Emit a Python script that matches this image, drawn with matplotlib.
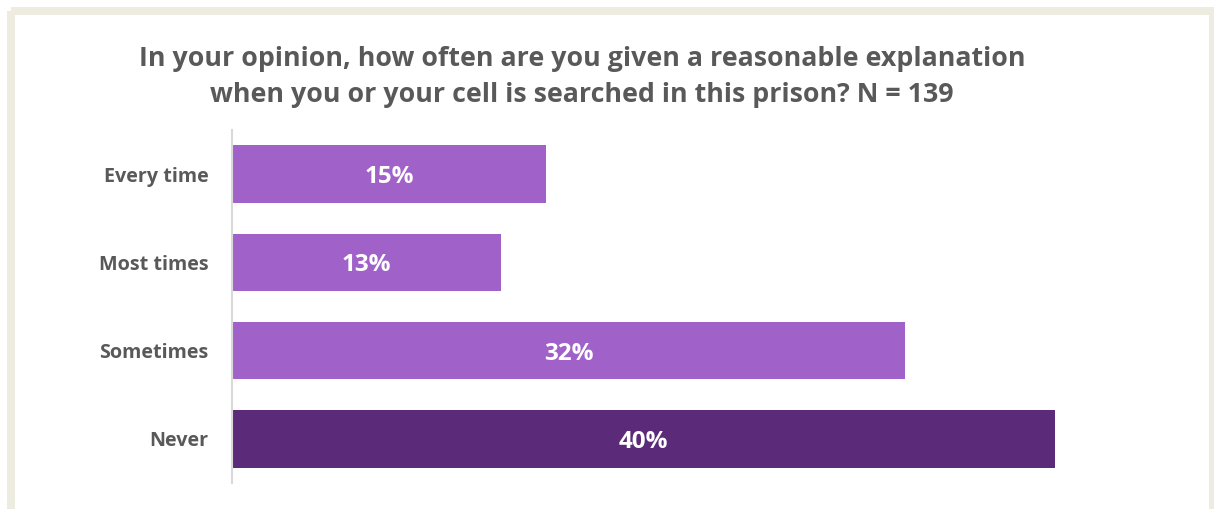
import matplotlib
matplotlib.use("Agg")
import matplotlib.pyplot as plt
from matplotlib.patches import Rectangle

# Survey responses (counts) out of N respondents
categories = ["Every time", "Most times", "Sometimes", "Never"]
counts = [21, 18, 45, 55]
n_total = 139
bar_colors = ["#A062C8", "#A062C8", "#A062C8", "#5B2A78"]

title = "In your opinion, how often are you given a reasonable explanation\nwhen you or your cell is searched in this prison? N = 139"

percents = [c / n_total * 100 for c in counts]

W, H, DPI = 1214, 509, 100
fig = plt.figure(figsize=(W / DPI, H / DPI), dpi=DPI, facecolor="white")

# Beige frame around the whole chart
lw_px = 8
frame = Rectangle((11 / W, 1 - 11 / H), (1213 - 11) / W, -(512 - 11) / H,
                  transform=fig.transFigure, fill=False,
                  edgecolor="#EEEBE0", linewidth=lw_px * 72 / DPI, zorder=0)
fig.patches.append(frame)

font = "Open Sans"
gray = "#595959"

ax_left, ax_right = 232, 1168
ax_top, ax_bottom = 130, 483
ax = fig.add_axes([ax_left / W, 1 - ax_bottom / H,
                   (ax_right - ax_left) / W, (ax_bottom - ax_top) / H])

y = list(range(len(categories)))
ax.barh(y, percents, height=0.65, color=bar_colors, zorder=2)
ax.set_ylim(3.5, -0.5)
ax.set_xlim(0, 45)

for yi, p in zip(y, percents):
    ax.text(p / 2, yi, f"{p:.0f}%", ha="center", va="center_baseline",
            color="white", fontsize=17.5, fontweight="bold", family=font)

ax.set_yticks(y)
ax.set_yticklabels(categories, fontsize=14.2, fontweight="bold",
                   color=gray, family=font)
ax.tick_params(axis="y", length=0, pad=17)
ax.set_xticks([])
for side in ["top", "right", "bottom"]:
    ax.spines[side].set_visible(False)
ax.spines["left"].set_color("#D9D9D9")
ax.spines["left"].set_linewidth(1.5)
ax.patch.set_alpha(0)

fig.text(582 / W, 1 - 77 / H, title, ha="center", va="center",
         fontsize=19.3, fontweight="bold", color=gray, family=font,
         linespacing=1.55)

fig.savefig("out.png", dpi=DPI, facecolor="white")
